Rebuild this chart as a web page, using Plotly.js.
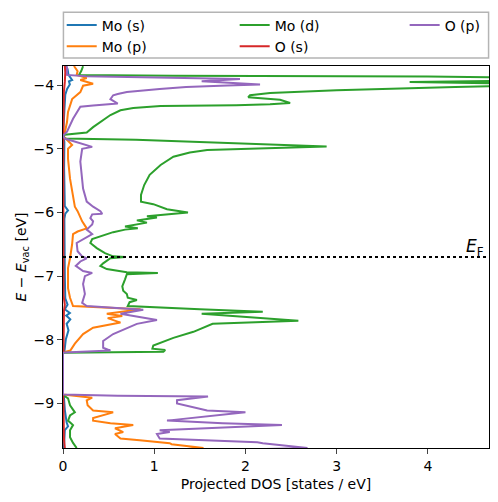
<!DOCTYPE html>
<html>
<head>
<meta charset="utf-8">
<script src="https://cdn.plot.ly/plotly-3.0.1.min.js"></script>
<style>html,body{margin:0;padding:0;background:#fff;}#chart{width:498px;height:502px;}</style>
</head>
<body>
<div id="chart"></div>
<script>
// ---- Data (energy E - E_vac in eV, projected DOS in states/eV) ----
const seriesNames = ["Mo (s)", "Mo (p)", "Mo (d)", "O (s)", "O (p)"];
const seriesColors = ["#1f77b4", "#ff7f0e", "#2ca02c", "#d62728", "#9467bd"];
const fermiLevel = -6.70;
const xTicks = [0, 1, 2, 3, 4];
const yTicks = [-9, -8, -7, -6, -5, -4];

const moS_E   = [-3.70,-3.75,-3.84,-3.92,-3.94,-3.99,-4.06,-4.15,-4.40,-4.78,-4.80,-4.84,-4.90,-5.30,-5.70,-5.90,-5.97,-6.02,-6.10,-6.50,-7.00,-7.35,-7.45,-7.52,-7.58,-7.62,-7.68,-7.75,-7.85,-8.00,-8.19,-8.205,-8.86,-8.90,-9.10,-9.30,-9.36,-9.42,-9.60,-9.70];
const moS_dos = [0.03,0.05,0.06,0.10,0.065,0.075,0.045,0.025,0.015,0.005,0.0,0.01,0.015,0.012,0.015,0.02,0.055,0.025,0.015,0.015,0.02,0.025,0.05,0.02,0.075,0.035,0.08,0.04,0.06,0.03,0.015,0,0,0.01,0.02,0.04,0.055,0.02,0.01,0.01];

const moP_E   = [-3.70,-3.78,-3.84,-3.89,-3.92,-3.98,-4.01,-4.11,-4.22,-4.31,-4.42,-4.58,-4.73,-4.78,-4.80,-4.84,-4.94,-5.00,-5.16,-5.47,-5.78,-5.91,-5.98,-6.09,-6.14,-6.25,-6.30,-6.34,-6.50,-6.72,-6.875,-7.19,-7.34,-7.47,-7.52,-7.59,-7.625,-7.66,-7.73,-7.81,-7.91,-8.06,-8.17,-8.19,-8.205,-8.86,-8.91,-8.95,-9.03,-9.11,-9.14,-9.23,-9.27,-9.31,-9.34,-9.39,-9.45,-9.48,-9.55,-9.58,-9.625,-9.64,-9.70,-9.73];
const moP_dos = [0.12,0.16,0.15,0.26,0.19,0.33,0.22,0.19,0.10,0.08,0.055,0.044,0.022,0.005,0,0.03,0.10,0.055,0.055,0.077,0.11,0.13,0.16,0.19,0.21,0.26,0.16,0.11,0.10,0.077,0.055,0.055,0.077,0.11,0.85,0.48,0.65,0.49,0.63,0.33,0.22,0.13,0.08,0.02,0,0,0.32,0.26,0.27,0.33,0.55,0.33,0.33,0.52,0.77,0.57,0.66,0.57,0.63,0.84,1.17,1.19,1.54,1.2];

const moD_E   = [-3.703,-3.78,-3.84,-3.855,-3.865,-3.875,-3.90,-3.93,-3.953,-3.975,-3.995,-4.03,-4.08,-4.125,-4.16,-4.19,-4.23,-4.28,-4.30,-4.317,-4.32,-4.33,-4.36,-4.395,-4.47,-4.58,-4.66,-4.745,-4.78,-4.81,-4.84,-4.86,-4.90,-4.93,-4.964,-5.02,-5.06,-5.125,-5.255,-5.41,-5.57,-5.725,-5.83,-5.87,-5.95,-6.00,-6.06,-6.08,-6.125,-6.16,-6.22,-6.25,-6.27,-6.31,-6.42,-6.48,-6.56,-6.64,-6.69,-6.70,-6.72,-6.80,-6.84,-6.89,-6.94,-6.95,-6.97,-7.05,-7.16,-7.23,-7.28,-7.34,-7.375,-7.41,-7.47,-7.52,-7.56,-7.59,-7.70,-7.75,-7.875,-7.97,-8.09,-8.14,-8.16,-8.19,-8.205,-8.86,-8.875,-8.92,-9.03,-9.14,-9.19,-9.27,-9.34,-9.42,-9.53,-9.62,-9.70];
const moD_dos = [0.22,0.20,0.175,1.2,4.0,6.0,6.3,5.0,3.8,5.0,5.5,4.3,3.0,2.27,2.05,2.03,2.38,2.49,2.27,1.9,1.43,1.07,0.77,0.63,0.52,0.41,0.33,0.26,0.02,0,0.02,0.8,1.6,2.4,2.89,1.58,1.39,1.21,1.07,0.95,0.89,0.855,0.855,0.99,1.14,1.37,0.92,1.03,0.81,0.92,0.68,0.82,0.68,0.55,0.32,0.30,0.37,0.46,0.55,0.68,0.52,0.44,0.41,0.48,0.70,1.04,0.70,0.68,0.65,0.66,0.70,0.71,0.81,0.73,0.71,1.50,2.19,1.52,2.58,1.64,1.43,1.21,0.99,0.98,1.12,1.10,0,0,0.01,0.055,0.077,0.13,0.077,0.055,0.11,0.077,0.077,0.11,0.15];

const oS_E   = [-3.70,-3.80,-3.95,-4.10,-4.78,-4.80,-4.84,-7.30,-7.45,-7.55,-8.19,-8.205,-8.86,-9.00,-9.55,-9.65,-9.70];
const oS_dos = [0.02,0.025,0.02,0.01,0.003,0,0.003,0.005,0.02,0.01,0.005,0,0,0.005,0.01,0.02,0.02];

const oP_E   = [-3.703,-3.84,-3.86,-3.88,-3.905,-3.94,-3.99,-4.005,-4.03,-4.06,-4.09,-4.11,-4.14,-4.16,-4.22,-4.29,-4.32,-4.34,-4.53,-4.73,-4.78,-4.80,-4.84,-4.92,-4.97,-5.00,-5.20,-5.625,-5.83,-5.91,-5.98,-6.02,-6.03,-6.09,-6.14,-6.19,-6.27,-6.34,-6.48,-6.61,-6.69,-6.72,-6.77,-6.84,-6.92,-6.95,-7.00,-7.125,-7.28,-7.42,-7.47,-7.53,-7.59,-7.69,-7.75,-7.91,-8.02,-8.125,-8.17,-8.20,-8.205,-8.86,-8.88,-8.89,-8.95,-9.00,-9.11,-9.14,-9.27,-9.31,-9.34,-9.42,-9.45,-9.48,-9.55,-9.61,-9.625,-9.70,-9.73];
const oP_dos = [0.044,0.044,0.25,1.0,1.94,1.52,2.16,1.80,1.35,1.06,0.82,0.70,0.60,0.55,0.52,0.60,0.33,0.19,0.11,0.044,0.01,0,0.02,0.19,0.32,0.21,0.19,0.22,0.26,0.33,0.41,0.43,0.32,0.30,0.33,0.32,0.26,0.32,0.15,0.16,0.21,0.26,0.19,0.14,0.22,0.32,0.24,0.22,0.24,0.21,0.26,0.88,0.63,1.03,0.81,0.55,0.44,0.44,0.52,0.02,0,0,0.6,1.59,1.25,1.25,1.58,2.0,1.14,1.75,2.40,1.06,1.17,1.03,1.06,2.13,2.19,2.68,1.8];

const energies = [moS_E, moP_E, moD_E, oS_E, oP_E];
const dosValues = [moS_dos, moP_dos, moD_dos, oS_dos, oP_dos];
const legendOf = ["legend", "legend", "legend2", "legend2", "legend3"];

const FONT = "DejaVu Sans, Verdana, sans-serif";

const traces = seriesNames.map((name, i) => ({
  type: "scatter",
  mode: "lines",
  name: name,
  x: dosValues[i],
  y: energies[i],
  line: {color: seriesColors[i], width: 2},
  legend: legendOf[i],
  hoverinfo: "skip"
}));

function legendAt(xp) {
  return {
    x: xp, xanchor: "left", y: 1.148, yanchor: "top",
    orientation: "v", bgcolor: "rgba(0,0,0,0)", borderwidth: 0,
    font: {family: FONT, size: 14, color: "#000"},
    itemwidth: 30, tracegroupgap: 0
  };
}

const layout = {
  width: 498, height: 502,
  margin: {l: 63, r: 9, t: 64, b: 54},
  paper_bgcolor: "#fff", plot_bgcolor: "#fff",
  font: {family: FONT, size: 14, color: "#000"},
  showlegend: true,
  legend: legendAt(-0.003),
  legend2: legendAt(0.403),
  legend3: legendAt(0.802),
  xaxis: {
    range: [0, 4.67], tickvals: xTicks, ticks: "outside", ticklen: 5, tickwidth: 1,
    showline: true, mirror: true, linecolor: "#000", linewidth: 1,
    showgrid: false, zeroline: false,
    tickfont: {family: FONT, size: 14, color: "#000"},
    title: {text: "Projected DOS [states / eV]", font: {family: FONT, size: 14, color: "#000"}, standoff: 6}
  },
  yaxis: {
    range: [-9.70, -3.70], tickvals: yTicks, ticks: "outside", ticklen: 5, tickwidth: 1,
    showline: true, mirror: true, linecolor: "#000", linewidth: 1,
    showgrid: false, zeroline: false,
    tickfont: {family: FONT, size: 14, color: "#000"},
    title: {text: "<i>E</i> − <i>E</i><sub>vac</sub> [eV]", font: {family: FONT, size: 14, color: "#000"}, standoff: 3}
  },
  shapes: [
    {type: "line", xref: "paper", yref: "y", x0: 0, x1: 1, y0: fermiLevel, y1: fermiLevel,
     line: {color: "#000", width: 2, dash: "dot"}, layer: "above"},
    {type: "rect", xref: "paper", yref: "paper", x0: 0.001, x1: 0.999, y0: 1.0208, y1: 1.1406,
     line: {color: "#b4b4b4", width: 1.5}, fillcolor: "rgba(0,0,0,0)", layer: "above"}
  ],
  annotations: [
    {xref: "paper", yref: "y", x: 0.992, y: fermiLevel, xanchor: "right", yanchor: "bottom",
     text: "<i>E</i><sub>F</sub>", showarrow: false, font: {family: FONT, size: 17, color: "#000"}, yshift: -4}
  ]
};

Plotly.newPlot("chart", traces, layout, {staticPlot: true, displayModeBar: false});
</script>
</body>
</html>
